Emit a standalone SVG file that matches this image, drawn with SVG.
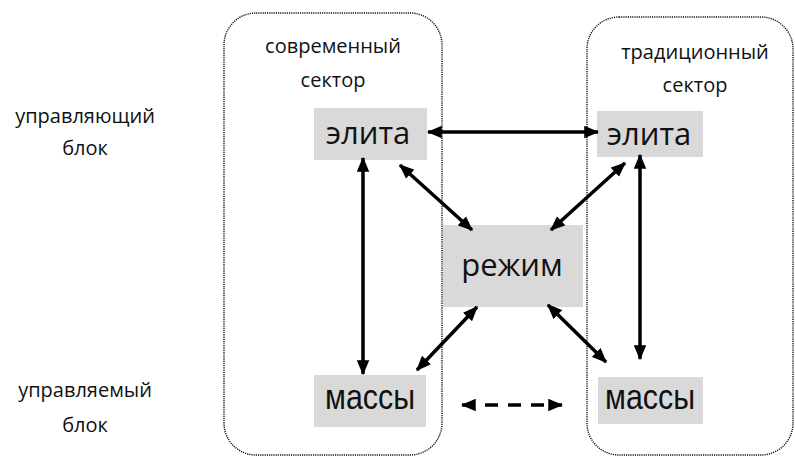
<svg xmlns="http://www.w3.org/2000/svg" width="795" height="457" viewBox="0 0 795 457">
<style>
.sector{fill:none;stroke:#111;stroke-width:1.4;stroke-dasharray:1.2 1}
.node{fill:#d9d9d9}
.lbl{font-family:"Open Sans","Noto Sans","DejaVu Sans",sans-serif;fill:#111;text-anchor:middle}
.big{font-family:"Open Sans","Noto Sans","DejaVu Sans",sans-serif;fill:#111;text-anchor:middle;font-size:31px}
.mass{font-family:"Liberation Sans",Arial,sans-serif;fill:#111;text-anchor:middle;font-size:35px}
.conn{stroke:#000;stroke-width:3.5;fill:none;marker-start:url(#ah);marker-end:url(#ah)}
.dash{stroke-dasharray:13 10}
</style>
<defs>
<marker id="ah" viewBox="0 0 12 10" refX="11" refY="5" markerWidth="15" markerHeight="13" markerUnits="userSpaceOnUse" orient="auto-start-reverse">
<path d="M0,0 L12,5 L0,10 Z" fill="#000"/>
</marker>
</defs>
<rect x="0" y="0" width="795" height="457" fill="#fff"/>
<g id="sector-modern">
<rect class="sector" x="224" y="13" width="218" height="442" rx="32" ry="32"/>
<text class="lbl" x="333" y="53" font-size="20">современный</text>
<text class="lbl" x="333" y="87" font-size="20">сектор</text>
</g>
<g id="sector-traditional">
<rect class="sector" x="587" y="17" width="206" height="438" rx="32" ry="32"/>
<text class="lbl" x="695" y="59" font-size="20">традиционный</text>
<text class="lbl" x="695" y="92" font-size="20">сектор</text>
</g>
<g id="row-labels">
<text class="lbl" x="85" y="123" font-size="20">управляющий</text>
<text class="lbl" x="85" y="155" font-size="20">блок</text>
<text class="lbl" x="85" y="397" font-size="20">управляемый</text>
<text class="lbl" x="85" y="432" font-size="20">блок</text>
</g>
<g id="elite-modern">
<rect class="node" x="314" y="108" width="113" height="52"/>
<text class="big" x="368" y="144">элита</text>
</g>
<g id="elite-traditional">
<rect class="node" x="597" y="111" width="106" height="46"/>
<text class="big" x="649" y="145">элита</text>
</g>
<g id="regime">
<rect class="node" x="443" y="225" width="140" height="82"/>
<text class="big" x="512" y="276">режим</text>
</g>
<g id="masses-modern">
<rect class="node" x="314" y="375" width="112" height="52"/>
<text class="mass" x="370" y="409" textLength="90" lengthAdjust="spacingAndGlyphs">массы</text>
</g>
<g id="masses-traditional">
<rect class="node" x="598" y="377" width="105" height="47"/>
<text class="mass" x="650" y="409" textLength="90" lengthAdjust="spacingAndGlyphs">массы</text>
</g>
<g id="connectors">
<line class="conn" x1="428" y1="132" x2="598" y2="132"/>
<line class="conn" x1="363" y1="158" x2="363" y2="374"/>
<line class="conn" x1="640" y1="155" x2="640" y2="359"/>
<line class="conn" x1="400" y1="165" x2="472" y2="230"/>
<line class="conn" x1="625" y1="163" x2="551" y2="230"/>
<line class="conn" x1="477" y1="307" x2="417" y2="370"/>
<line class="conn" x1="548" y1="305" x2="606" y2="362"/>
<line class="conn dash" x1="462" y1="405" x2="562" y2="405"/>
</g>
</svg>
